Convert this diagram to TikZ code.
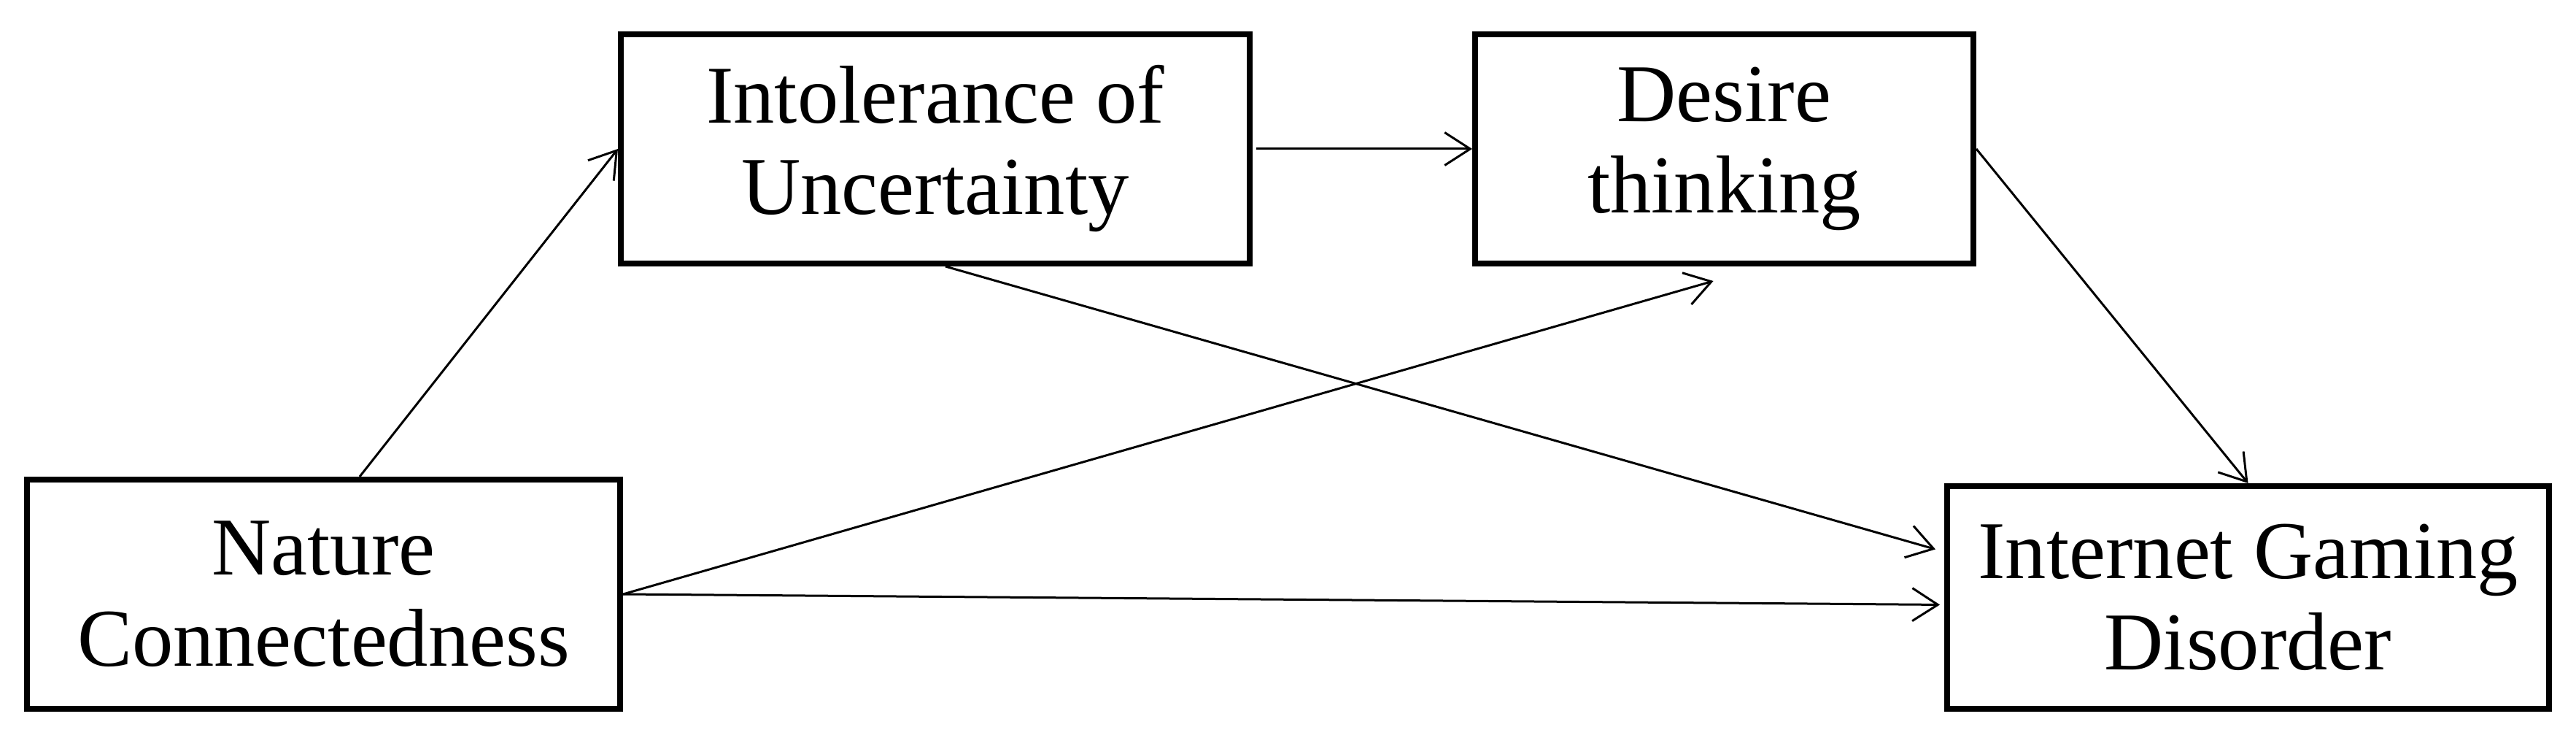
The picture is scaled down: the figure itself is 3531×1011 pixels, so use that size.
\documentclass[tikz,border=0pt]{standalone}
\usepackage{fontspec}
\setmainfont{Liberation Serif}
\usetikzlibrary{arrows.meta,calc}
\begin{document}
\begin{tikzpicture}[x=0.2pt,y=-0.2pt,
  box/.style={draw,line width=1.6pt,inner sep=0pt,align=center,font=\fontsize{22.5}{25}\selectfont},
  link/.style={line width=0.6pt,-{Straight Barb[length=7pt,width=9pt]}}]
\useasboundingbox (0,0) rectangle (3531,1011);
\node[box,minimum width=162.6pt,minimum height=62.8pt] (NC) at (443.5,814) {Nature\\Connectedness};
\node[box,minimum width=172.4pt,minimum height=62.8pt] (IU) at (1282,204) {Intolerance of\\Uncertainty};
\node[box,minimum width=136.6pt,minimum height=62.8pt] (DT) at (2363.5,204) {Desire\\thinking};
\node[box,minimum width=165pt,minimum height=61pt] (IGD) at (3081.5,818.5) {Internet Gaming\\Disorder};
\coordinate (ncTop) at ($(NC.north)+(49.5,0)$);
\coordinate (iuBot) at ($(IU.south)+(14,0)$);
\coordinate (igdW1) at ($(IGD.north west)!0.30!(IGD.south west)$);
\coordinate (igdW2) at ($(IGD.west)+(0,10)$);
\coordinate (dtBot) at ($(DT.south)+(-15,20)$);
\draw[link] (ncTop) -- (IU.west);
\draw[link,shorten <=1pt] (IU.east) -- (DT.west);
\draw[link,shorten >=2.5pt] (iuBot) -- (igdW1);
\draw[link] (NC.east) -- (dtBot);
\draw[link,shorten >=1.2pt] (NC.east) -- (igdW2);
\draw[link] (DT.east) -- (IGD.north);
\end{tikzpicture}
\end{document}
